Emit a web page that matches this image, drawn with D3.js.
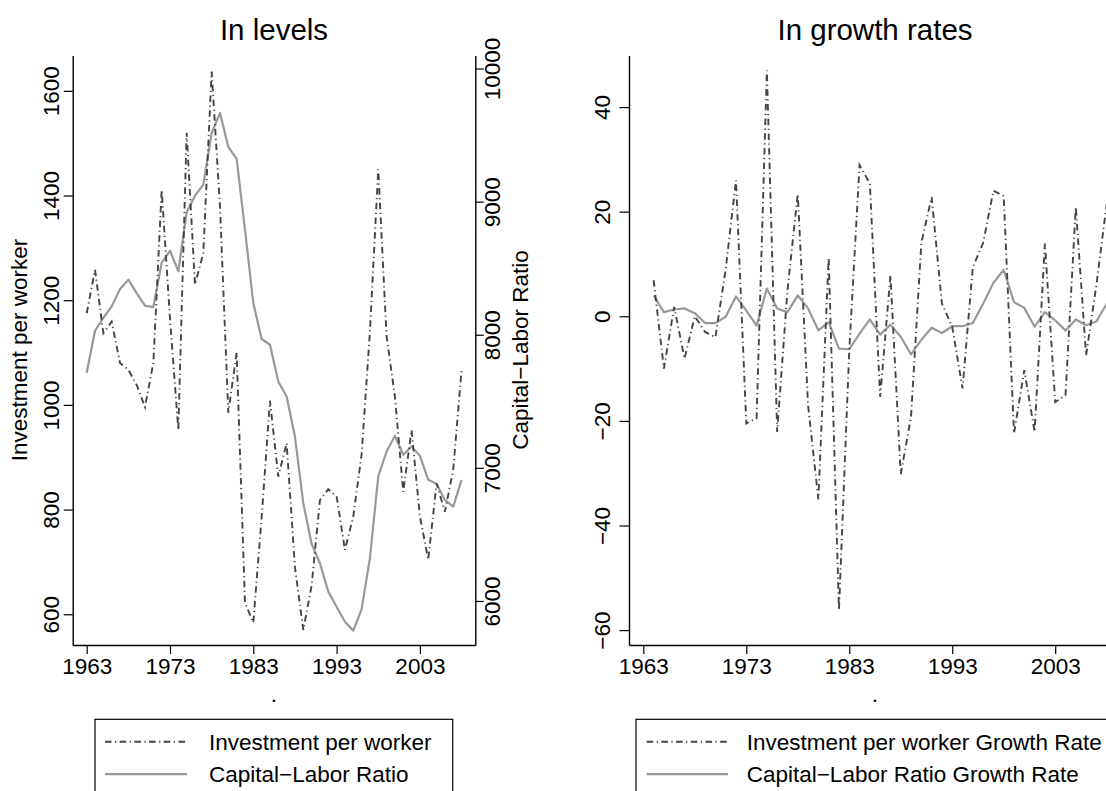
<!DOCTYPE html>
<html><head><meta charset="utf-8">
<script src="https://cdn.jsdelivr.net/npm/d3@7"></script>
<style>
body{margin:0;background:#fff}
svg{display:block}
text{font-family:"Liberation Sans",Arial,Helvetica,sans-serif;fill:#000}
</style>
</head><body>
<svg id="c" width="1106" height="791"></svg>
<script>
// ---------------- data ----------------
const years = [1963,1964,1965,1966,1967,1968,1969,1970,1971,1972,1973,1974,1975,1976,1977,1978,1979,1980,1981,1982,1983,1984,1985,1986,1987,1988,1989,1990,1991,1992,1993,1994,1995,1996,1997,1998,1999,2000,2001,2002,2003,2004,2005,2006,2007,2008];
const investmentPerWorker = [1175,1258,1137,1159,1080,1067,1038,996,1080,1411,1165,952,1520,1230,1290,1637,1380,985,1100,622,584,785,1008,863,927,690,570,655,818,839,825,723,787,905,1140,1450,1131,1016,834,952,787,704,850,796,876,1067];
const capitalLaborRatio = [7714,8030,8126,8213,8343,8414,8313,8218,8208,8539,8632,8476,8920,9045,9128,9516,9667,9411,9321,8790,8238,7968,7925,7649,7536,7235,6735,6430,6283,6070,5957,5844,5777,5937,6321,6935,7123,7241,7098,7160,7090,6910,6880,6759,6709,6910];
const growthYears = [1964,1965,1966,1967,1968,1969,1970,1971,1972,1973,1974,1975,1976,1977,1978,1979,1980,1981,1982,1983,1984,1985,1986,1987,1988,1989,1990,1991,1992,1993,1994,1995,1996,1997,1998,1999,2000,2001,2002,2003,2004,2005,2006,2007,2008];
const investmentGrowth = [6.9,-10.0,1.8,-8.1,0.0,-3.0,-4.0,9.0,26.0,-20.5,-19.5,47.0,-22.1,5.0,23.4,-17.0,-35.0,11.3,-56.2,-6.5,28.9,25.4,-15.4,7.8,-30.2,-19.2,14.0,22.8,2.4,-2.0,-13.8,9.4,14.0,24.0,23.0,-22.4,-10.3,-22.1,13.9,-16.4,-15.1,20.9,-7.5,6.0,21.5];
const capitalGrowth = [4.0,0.8,1.3,1.5,0.6,-1.3,-1.3,-0.1,3.8,1.1,-1.8,5.3,1.5,0.8,4.0,1.5,-2.7,-1.1,-6.2,-6.3,-3.3,-0.6,-3.5,-1.6,-3.9,-7.3,-4.5,-2.2,-3.2,-1.9,-1.9,-1.3,2.4,6.4,8.9,2.7,1.6,-2.0,0.8,-0.8,-2.7,-0.6,-1.7,-1.0,2.4];
const xTicks = [1963,1973,1983,1993,2003];
const levelLeftTicks = [600,800,1000,1200,1400,1600];
const levelRightTicks = [6000,7000,8000,9000,10000];
const growthTicks = [-60,-40,-20,0,20,40];
const titles = ["In levels","In growth rates"];
const legendLeft = ["Investment per worker","Capital\u2212Labor Ratio"];
const legendRight = ["Investment per worker Growth Rate","Capital\u2212Labor Ratio Growth Rate"];
const yTitleLeft = "Investment per worker";
const yTitleRight = "Capital\u2212Labor Ratio";

// ---------------- drawing ----------------
const svg = d3.select("#c");
const FS = 22.5;
const DASH = "6.5,3.5,1.2,3.5";
const C_DASH = "#444444", C_SOLID = "#999999";
const yTop = 55.5, yBot = 645;

function fmt(v){ return v < 0 ? "\u2212" + Math.abs(v) : String(v); }

function rotLabels(g, offset){
  g.selectAll(".tick text")
    .attr("transform","rotate(-90)")
    .attr("x",0).attr("y",offset).attr("dy",0)
    .attr("text-anchor","middle")
    .style("font-size",FS+"px");
}
function styleAxis(g){
  g.select(".domain").attr("stroke","#000").attr("stroke-width",1.4);
  g.selectAll(".tick line").attr("stroke","#000").attr("stroke-width",1.2);
}

// ===== Panel 1: levels =====
const x1 = d3.scaleLinear().domain([1961.32, 2009.65]).range([72.7, 475.3]);
const yL = d3.scaleLinear().domain([541.3, 1667.5]).range([yBot, yTop]);
const yR = d3.scaleLinear().domain([5669, 10098]).range([yBot, yTop]);

const p1 = svg.append("g");
const lvl = years.map((yr,i)=>({yr, inv:investmentPerWorker[i], cap:capitalLaborRatio[i]}));
p1.append("path").datum(lvl)
  .attr("fill","none").attr("stroke",C_SOLID).attr("stroke-width",2.2).attr("stroke-linejoin","round")
  .attr("d", d3.line().x(d=>x1(d.yr)).y(d=>yR(d.cap)));
p1.append("path").datum(lvl)
  .attr("fill","none").attr("stroke",C_DASH).attr("stroke-width",1.9).attr("stroke-dasharray",DASH)
  .attr("d", d3.line().x(d=>x1(d.yr)).y(d=>yL(d.inv)));

const ax1 = p1.append("g").attr("transform",`translate(0,${yBot})`)
  .call(d3.axisBottom(x1).tickValues(xTicks).tickSize(9).tickSizeOuter(0).tickFormat(d3.format("d")));
styleAxis(ax1);
ax1.selectAll(".tick text").style("font-size",FS+"px").attr("y",28.5).attr("dy",0);

const ayL = p1.append("g").attr("transform","translate(72.7,0)")
  .call(d3.axisLeft(yL).tickValues(levelLeftTicks).tickSize(9).tickSizeOuter(0).tickFormat(d3.format("d")));
styleAxis(ayL); rotLabels(ayL, -14);

const ayR = p1.append("g").attr("transform","translate(475.3,0)")
  .call(d3.axisRight(yR).tickValues(levelRightTicks).tickSize(8.5).tickSizeOuter(0).tickFormat(d3.format("d")));
styleAxis(ayR); rotLabels(ayR, 24.5);

p1.append("text").attr("x",274).attr("y",40).attr("text-anchor","middle").style("font-size","29.5px").text(titles[0]);
p1.append("text").attr("transform","translate(27,350) rotate(-90)").attr("text-anchor","middle").style("font-size",FS+"px").text(yTitleLeft);
p1.append("text").attr("transform","translate(528,350) rotate(-90)").attr("text-anchor","middle").style("font-size",FS+"px").text(yTitleRight);
p1.append("text").attr("x",274).attr("y",702).attr("text-anchor","middle").style("font-size",FS+"px").text(".");

// legend 1
const lg1 = p1.append("g");
lg1.append("rect").attr("x",95).attr("y",719.3).attr("width",357.7).attr("height",120)
  .attr("fill","none").attr("stroke","#000").attr("stroke-width",1.2);
[[C_DASH,DASH,1.9],[C_SOLID,null,2.2]].forEach((s,i)=>{
  const yy = 741.7 + i*32.5;
  lg1.append("line").attr("x1",105).attr("x2",187).attr("y1",yy).attr("y2",yy)
    .attr("stroke",s[0]).attr("stroke-width",s[2]).attr("stroke-dasharray",s[1]);
  lg1.append("text").attr("x",209).attr("y",yy+8).style("font-size",FS+"px").text(legendLeft[i]);
});

// ===== Panel 2: growth rates =====
const x2 = d3.scaleLinear().domain([1961.61, 2009.39]).range([629, 1121]);
const yG = d3.scaleLinear().domain([-62.85, 49.86]).range([yBot, yTop]);
const p2 = svg.append("g");
const gr = growthYears.map((yr,i)=>({yr, inv:investmentGrowth[i], cap:capitalGrowth[i]}));
p2.append("path").datum(gr)
  .attr("fill","none").attr("stroke",C_SOLID).attr("stroke-width",2.2).attr("stroke-linejoin","round")
  .attr("d", d3.line().x(d=>x2(d.yr)).y(d=>yG(d.cap)));
p2.append("path").datum(gr)
  .attr("fill","none").attr("stroke",C_DASH).attr("stroke-width",1.9).attr("stroke-dasharray",DASH)
  .attr("d", d3.line().x(d=>x2(d.yr)).y(d=>yG(d.inv)));

const ax2 = p2.append("g").attr("transform",`translate(0,${yBot})`)
  .call(d3.axisBottom(x2).tickValues(xTicks).tickSize(9).tickSizeOuter(0).tickFormat(d3.format("d")));
styleAxis(ax2);
ax2.selectAll(".tick text").style("font-size",FS+"px").attr("y",28.5).attr("dy",0);

const ayG = p2.append("g").attr("transform","translate(629,0)")
  .call(d3.axisLeft(yG).tickValues(growthTicks).tickSize(9.5).tickSizeOuter(0).tickFormat(fmt));
styleAxis(ayG); rotLabels(ayG, -19);

p2.append("text").attr("x",875).attr("y",40).attr("text-anchor","middle").style("font-size","29.5px").text(titles[1]);
p2.append("text").attr("x",875).attr("y",702).attr("text-anchor","middle").style("font-size",FS+"px").text(".");

const lg2 = p2.append("g");
lg2.append("rect").attr("x",636).attr("y",719.3).attr("width",520).attr("height",120)
  .attr("fill","none").attr("stroke","#000").attr("stroke-width",1.2);
[[C_DASH,DASH,1.9],[C_SOLID,null,2.2]].forEach((s,i)=>{
  const yy = 741.7 + i*32.5;
  lg2.append("line").attr("x1",646.7).attr("x2",728).attr("y1",yy).attr("y2",yy)
    .attr("stroke",s[0]).attr("stroke-width",s[2]).attr("stroke-dasharray",s[1]);
  lg2.append("text").attr("x",746.7).attr("y",yy+8).style("font-size",FS+"px").text(legendRight[i]);
});
</script>
</body></html>
